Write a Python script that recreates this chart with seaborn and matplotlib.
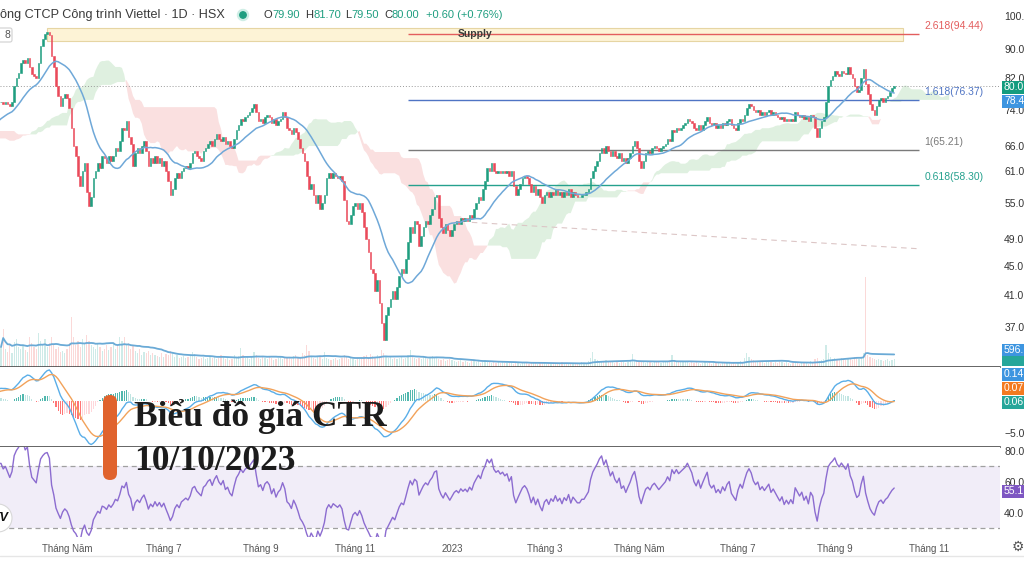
import numpy as np
import pandas as pd
import matplotlib
matplotlib.use("Agg")
import matplotlib.pyplot as plt
from matplotlib.patches import Rectangle, FancyBboxPatch, Circle
from matplotlib.ticker import NullLocator
import seaborn as sns

W, H = 1024, 576

# ---------------- data ----------------
start_date = "2022-03-21"
history_close = [
    72, 71.5, 72.5, 73, 72, 71, 70.5, 71.5, 72, 73,
    73.5, 72.5, 71, 70, 69.5, 70.5, 71, 70, 69, 68.5,
    69.5, 70, 71, 72, 71.5, 70.5, 69.5, 68, 67.5, 68.5,
    69, 70, 69.5, 68.5, 67, 66, 66.5, 67.5, 68, 67,
    66, 65, 65.5, 66.5, 67.5, 68, 67.5, 68.5, 69.5, 70,
    69, 68, 67, 66.5, 65.5, 66, 66.5, 67.5, 68, 67.5,
    67, 68, 69, 68.5, 69.5, 70.5, 70, 69, 70.5, 71.5,
    71, 72, 73, 72.5, 73.5, 74.5, 75, 74.5, 76, 76,
]
close = [
    76, 75.5, 76, 75.5, 75, 76, 80, 82, 83.5, 86,
    87, 86, 87.5, 85, 83, 82.5, 82, 86, 91, 93,
    94.5, 95, 94, 88, 85, 80, 77.5, 75, 77, 78,
    77, 74.5, 70, 66, 64, 60, 58, 61, 62.5, 57,
    54.5, 56, 59.5, 61, 62.5, 61.5, 64, 63.5, 62.5, 64,
    63, 64, 65.5, 65, 67, 70, 69.5, 71.5, 68, 66.5,
    62, 64.5, 65.5, 64.5, 66, 67, 65, 62, 63.5, 62.5,
    64, 62.5, 63.5, 62, 63, 61, 59, 56.5, 57.5, 59.5,
    60.5, 59.5, 61, 61.5, 62, 61.5, 62.5, 64.5, 65, 64,
    63.5, 63, 65, 65.5, 66.5, 67, 66, 67.5, 68.5, 67.5,
    67, 68, 66.5, 67, 66, 65.5, 67.5, 69.5, 70.5, 72,
    71.5, 72.5, 73, 73.5, 74.5, 75.5, 73.5, 71.5, 72, 71,
    72.5, 73, 72.5, 71, 72, 70.5, 71.5, 72, 73.5, 72.5,
    70, 69.5, 68.5, 70, 69, 67.5, 65.5, 64.5, 63, 60,
    57.5, 58.5, 56.5, 55, 56.5, 54, 55, 56.5, 59.5, 60.5,
    59.5, 60.5, 60, 59.5, 60, 59, 55.5, 52, 51.5, 53,
    54.5, 55, 54, 55, 53.5, 51, 49, 47, 44.5, 44,
    41.5, 43, 40, 37.5, 35.5, 38.5, 39.5, 40.5, 41.5, 40.5,
    42, 43.5, 44.5, 44, 46, 48.5, 51, 50, 52, 51.5,
    48, 49.5, 51, 52, 51.5, 53, 54, 56, 56.5, 52.5,
    51, 50, 51.5, 50.5, 49.5, 50.5, 51.5, 52, 51.5, 52.5,
    52, 52.5, 52, 53, 52.5, 54, 55, 56, 55.5, 57.5,
    59, 61.5, 61, 62.5, 61, 60.5, 61, 60.5, 61, 60.5,
    61, 60, 61, 58, 56.5, 57.5, 58.5, 59.5, 60, 59.5,
    58.5, 57, 58, 56.5, 57.5, 56, 55, 56.5, 57, 56,
    57, 56.5, 57.5, 56.5, 57, 56, 57, 56.5, 57.5, 56,
    57, 56.5, 56, 56, 56.5, 56.5, 57, 57.5, 59.5, 61,
    62, 63, 64.5, 65.5, 64.5, 66, 65, 64, 65, 64,
    63.5, 64.5, 63, 63.5, 62.5, 63.5, 64.5, 66, 67, 65.5,
    63, 61.5, 63, 64.5, 65, 64.5, 65.5, 66, 65.5, 65,
    65.5, 66, 66.5, 67.5, 67, 69.5, 69, 70, 69.5, 70,
    70.5, 71, 72, 71.5, 71, 70, 69.5, 70.5, 69.5, 70.5,
    71.5, 72.5, 71, 70.5, 71, 70, 70.5, 70, 71, 70.5,
    71.5, 72, 70.5, 70, 69.5, 71, 72, 71.5, 73, 74.5,
    75.5, 75, 74, 73.5, 74, 73, 73.5, 73, 73.5, 74,
    73, 73.5, 73, 72.5, 72, 72.5, 71.5, 72, 71.5, 72,
    71.5, 73.5, 73, 72.5, 73, 72, 72.5, 71.5, 73, 72.5,
    70, 68, 70, 71.5, 72.5, 76, 80, 81.5, 82.5, 84,
    83, 82.5, 84, 83.5, 83, 85, 83, 82, 80, 78.5,
    79, 82, 84.5, 80.5, 78, 75.5, 74, 73, 75, 76.5,
    77, 76, 77, 77.5, 78.5, 79.4, 80,
]
volume = [
    20, 38, 18, 15, 22, 14, 25, 28, 20, 18,
    22, 17, 15, 30, 24, 20, 18, 34, 26, 22,
    28, 20, 24, 30, 22, 18, 20, 15, 16, 14,
    18, 24, 50, 30, 22, 26, 20, 28, 24, 32,
    26, 22, 20, 18, 24, 20, 16, 18, 22, 17,
    20, 24, 18, 22, 30, 26, 30, 22, 24, 18,
    22, 16, 14, 18, 12, 15, 14, 16, 12, 14,
    12, 11, 10, 14, 10, 13, 12, 16, 14, 10,
    12, 9, 10, 11, 9, 10, 12, 15, 13, 10,
    8, 9, 10, 8, 9, 11, 9, 10, 8, 9,
    12, 10, 8, 9, 7, 8, 12, 10, 11, 19,
    12, 9, 10, 8, 11, 15, 12, 9, 8, 10,
    9, 8, 10, 9, 7, 8, 9, 10, 8, 9,
    9, 10, 8, 11, 12, 10, 9, 14, 12, 22,
    16, 10, 9, 8, 11, 10, 8, 15, 9, 8,
    7, 8, 9, 7, 8, 9, 12, 10, 8, 9,
    8, 7, 9, 8, 10, 11, 12, 10, 13, 11,
    10, 12, 11, 17, 14, 10, 9, 10, 8, 9,
    8, 9, 10, 8, 9, 12, 17, 10, 9, 8,
    9, 8, 10, 9, 8, 10, 11, 9, 10, 8,
    7, 8, 6, 7, 8, 7, 6, 5, 6, 7,
    5, 6, 5, 4, 6, 7, 5, 6, 4, 5,
    7, 6, 5, 4, 5, 4, 5, 4, 5, 4,
    4, 5, 4, 3, 5, 4, 3, 4, 5, 4,
    3, 4, 5, 4, 3, 4, 5, 4, 3, 4,
    3, 4, 3, 4, 3, 5, 4, 3, 4, 3,
    4, 3, 4, 3, 5, 4, 3, 6, 9, 15,
    8, 7, 6, 5, 6, 7, 5, 6, 5, 4,
    5, 4, 6, 5, 4, 5, 6, 13, 7, 6,
    5, 6, 5, 4, 6, 5, 4, 5, 6, 5,
    4, 5, 6, 5, 7, 12, 6, 5, 6, 5,
    6, 5, 6, 4, 5, 4, 5, 4, 3, 4,
    5, 4, 5, 3, 4, 5, 4, 3, 4, 5,
    4, 5, 3, 4, 3, 5, 6, 5, 9, 14,
    10, 8, 7, 6, 5, 6, 5, 4, 5, 6,
    5, 4, 5, 4, 6, 5, 4, 5, 4, 3,
    4, 5, 4, 3, 4, 5, 4, 3, 6, 5,
    8, 9, 6, 7, 8, 22, 14, 10, 8, 9,
    7, 8, 9, 8, 7, 9, 8, 7, 10, 9,
    8, 10, 14, 90, 12, 10, 9, 8, 7, 8,
    7, 6, 7, 8, 6, 7, 8,
]
header_title = "ông CTCP Công trình Viettel · 1D · HSX"
ohlc_letters = ["O", "H", "L", "C"]
ohlc_values = ["79.90", "81.70", "79.50", "80.00"]
change_text = "+0.60 (+0.76%)"
fib_ratios = ["2.618", "1.618", "1", "0.618"]
fib_prices = [94.44, 76.37, 65.21, 58.30]
fib_colors = ["#e35d5d", "#4f74c4", "#7a7a7a", "#25a18e"]
supply_low, supply_high = 92.4, 96.4
supply_label = "Supply"
trend_idx = [214, 418]
trend_price = [51.7, 47.5]
price_ticks = [100, 90, 82, 74, 66, 61, 55, 49, 45, 41, 37]
macd_ticks = [-5]
rsi_ticks = [40, 60, 80]
month_labels = {5: "Tháng Năm", 7: "Tháng 7", 9: "Tháng 9", 11: "Tháng 11", 3: "Tháng 3"}
title_lines = ["Biểu đồ giá CTR", "10/10/2023"]
tag_texts = {"last": "80.0", "ma": "78.4", "vol": "596.", "macd": "0.14",
             "signal": "0.07", "hist": "0.06", "rsi": "55.1"}

# ---------------- indicators ----------------
n_hist = len(history_close)
s = pd.Series(np.array(history_close + close, dtype=float))
xi = np.arange(len(s)) - n_hist
opens = s.shift(1).bfill().values
closes = s.values
sma20 = s.rolling(20).mean()
ema12 = s.ewm(span=12, adjust=False).mean()
ema26 = s.ewm(span=26, adjust=False).mean()
macd = ema12 - ema26
signal = macd.ewm(span=9, adjust=False).mean()
hist = macd - signal
d = s.diff()
ag = d.clip(lower=0).ewm(alpha=1 / 14, adjust=False).mean()
al = (-d.clip(upper=0)).ewm(alpha=1 / 14, adjust=False).mean()
rsi = 100 - 100 / (1 + ag / al)
tenkan = (s.rolling(9).max() + s.rolling(9).min()) / 2
kijun = (s.rolling(26).max() + s.rolling(26).min()) / 2
spanA = ((tenkan + kijun) / 2).values
spanB = ((s.rolling(52).max() + s.rolling(52).min()) / 2).values
cloud_x = xi + 25
vol = pd.Series(np.array(volume, dtype=float))
vol_ma = vol.rolling(20, min_periods=1).mean()
vx = np.arange(len(vol))

# ---------------- figure ----------------
sns.set_theme(style="white")
plt.rcParams["font.family"] = ["Liberation Sans", "DejaVu Sans"]
fig = plt.figure(figsize=(W / 100, H / 100), dpi=100)
fig.patch.set_facecolor("white")


def rect(top, bottom, left=0, right=1000):
    return [left / W, 1 - bottom / H, (right - left) / W, (bottom - top) / H]


ax_vol = fig.add_axes(rect(0, 367))
ax_price = fig.add_axes(rect(0, 367), sharex=ax_vol)
ax_price.patch.set_alpha(0)
ax_macd = fig.add_axes(rect(367, 447), sharex=ax_vol)
ax_rsi = fig.add_axes(rect(447, 537), sharex=ax_vol)
XMIN, XMAX = -0.45, 454.1
ax_vol.set_xlim(XMIN, XMAX)

GREEN, RED = "#1f9e80", "#ea4a5a"

# volume
vis = xi >= 0
up = closes[vis] >= opens[vis]
vcol = np.where(up, "#26a69a", "#ef5350")
ax_vol.bar(vx, vol.values, width=0.6, color=vcol, alpha=0.22, linewidth=0)
sns.lineplot(x=vx, y=vol_ma.values, ax=ax_vol, color="#6aaad6", linewidth=1.3,
             estimator=None, sort=False)
ax_vol.set_ylim(0, 367)
ax_vol.axis("off")

# ichimoku cloud
ok = ~np.isnan(spanA) & ~np.isnan(spanB)
ax_price.fill_between(cloud_x[ok], spanA[ok], spanB[ok], where=spanA[ok] >= spanB[ok],
                      color="#81c784", alpha=0.25, linewidth=0, interpolate=True)
ax_price.fill_between(cloud_x[ok], spanA[ok], spanB[ok], where=spanA[ok] < spanB[ok],
                      color="#ef9a9a", alpha=0.3, linewidth=0, interpolate=True)

ax_price.set_yscale("log")
ax_price.set_ylim(32.55, 105.3)

# supply zone & fib
ax_price.add_patch(Rectangle((21, supply_low), 389, supply_high - supply_low,
                             facecolor="#fdf3d6", edgecolor="#e6d5a3", linewidth=0.8, zorder=1))
ax_price.text((21 + 410) / 2, np.sqrt(supply_low * supply_high), supply_label, ha="center",
              va="center", fontsize=7.5, fontweight="bold", color="#3a3a3a", zorder=4)
for r, p, c in zip(fib_ratios, fib_prices, fib_colors):
    ax_price.hlines(p, 185, 417.5, color=c, linewidth=1.0, zorder=3)
    ax_price.annotate(f"{r}({p:.2f})", xy=(418.5, p), xytext=(3, 8), textcoords="offset pixels",
                      ha="left", va="center", fontsize=7.5, color=c)

ax_price.plot(trend_idx, trend_price, color="#dcc6c6", linewidth=0.8, linestyle=(0, (5, 4)))
ax_price.axhline(close[-1], color="#9a9a9a", linewidth=0.7, linestyle=(0, (1, 2)))

# candles
o = opens[vis]
c = closes[vis]
ccol = np.where(up, GREEN, RED)
body = np.abs(c - o)
ax_price.bar(np.arange(len(c)), body, bottom=np.minimum(o, c), width=0.72, color=ccol,
             edgecolor=ccol, linewidth=0.4, zorder=5)

m = ~np.isnan(sma20.values)
sns.lineplot(x=xi[m], y=sma20.values[m], ax=ax_price, color="#6fa8d8", linewidth=1.1,
             estimator=None, sort=False, zorder=6)

ax_price.yaxis.tick_right()
ax_price.set_yticks(price_ticks)
ax_price.set_yticklabels([f"{v:.1f}" for v in price_ticks])
ax_price.yaxis.set_minor_locator(NullLocator())
ax_price.tick_params(axis="y", length=0, pad=3, labelsize=7.5, colors="#333333")
ax_price.tick_params(axis="x", length=0, labelbottom=False)
for sp in ["top", "left", "right"]:
    ax_price.spines[sp].set_visible(False)
ax_price.spines["bottom"].set_color("#4a4a4a")
ax_price.spines["bottom"].set_linewidth(1.2)
ax_price.set_ylabel("")

# MACD
hv = hist.values
hprev = np.concatenate([[0], hv[:-1]])
hcol = np.where(hv >= 0, np.where(hv >= hprev, "#26a69a", "#b2dfdb"),
                np.where(hv < hprev, "#ff5252", "#ffcdd2"))
ax_macd.bar(xi, hv, width=0.55, color=hcol, linewidth=0, alpha=0.8)
sns.lineplot(x=xi, y=macd.values, ax=ax_macd, color="#5aaee8", linewidth=1.0,
             estimator=None, sort=False)
sns.lineplot(x=xi, y=signal.values, ax=ax_macd, color="#f2a25a", linewidth=1.0,
             estimator=None, sort=False)
ax_macd.set_ylim(-7.19, 5.31)
ax_macd.yaxis.tick_right()
ax_macd.set_yticks(macd_ticks)
ax_macd.set_yticklabels(["\u22125.0"])
ax_macd.tick_params(axis="y", length=0, pad=3, labelsize=7.5, colors="#333333")
ax_macd.tick_params(axis="x", length=0, labelbottom=False)
for sp in ["top", "left", "right"]:
    ax_macd.spines[sp].set_visible(False)
ax_macd.spines["bottom"].set_color("#4a4a4a")
ax_macd.spines["bottom"].set_linewidth(1.2)
ax_macd.set_ylabel("")

# RSI
ax_rsi.axhspan(30, 70, color="#7e57c2", alpha=0.1, linewidth=0)
ax_rsi.axhline(70, color="#a0a0a0", linewidth=0.9, linestyle=(0, (4, 3)))
ax_rsi.axhline(30, color="#a0a0a0", linewidth=0.9, linestyle=(0, (4, 3)))
r = rsi.values
mr = ~np.isnan(r)
sns.lineplot(x=xi[mr], y=r[mr], ax=ax_rsi, color="#8c6cd0", linewidth=1.0,
             estimator=None, sort=False)
ax_rsi.set_ylim(24.2, 82.26)
ax_rsi.yaxis.tick_right()
ax_rsi.set_yticks(rsi_ticks)
ax_rsi.set_yticklabels([f"{v:.1f}" for v in rsi_ticks])
ax_rsi.tick_params(axis="y", length=0, pad=3, labelsize=7.5, colors="#333333")
for sp in ["top", "left", "right", "bottom"]:
    ax_rsi.spines[sp].set_visible(False)
ax_rsi.set_ylabel("")

# month ticks
dates = pd.bdate_range(start_date, periods=int(XMAX) + 1)
tick_pos, tick_lab = [], []
for i in range(1, len(dates)):
    if dates[i].month != dates[i - 1].month:
        mo = dates[i].month
        if mo == 1:
            tick_pos.append(i)
            tick_lab.append(str(dates[i].year))
        elif mo in month_labels:
            tick_pos.append(i)
            tick_lab.append(month_labels[mo])
ax_rsi.set_xticks(tick_pos)
ax_rsi.set_xticklabels(tick_lab)
ax_rsi.tick_params(axis="x", length=0, pad=5, labelsize=7, colors="#555555")
ax_rsi.set_xlim(XMIN, XMAX)

# ---------------- overlay (pixel coords) ----------------
ov = fig.add_axes([0, 0, 1, 1])
ov.set_xlim(0, W)
ov.set_ylim(H, 0)
ov.axis("off")
ov.patch.set_alpha(0)

ov.text(0, 15, header_title, fontsize=9.1, color="#3a3a3a", va="center", ha="left")
ov.add_patch(Circle((243, 15), 5.5, color="#cfeee6"))
ov.add_patch(Circle((243, 15), 3.2, color="#1f9e80"))
letter_x = [263, 305, 345, 384]
value_x = [272, 313, 351.5, 392]
for lx, vx_, L, v in zip(letter_x, value_x, ohlc_letters, ohlc_values):
    ov.text(lx, 15, L, fontsize=8, color="#333333", va="center", ha="left")
    ov.text(vx_, 15, v, fontsize=8, color="#1f9e80", va="center", ha="left")
ov.text(426, 15, change_text, fontsize=8, color="#1f9e80", va="center", ha="left")

ov.add_patch(FancyBboxPatch((-4, 28), 16, 14, boxstyle="round,pad=0,rounding_size=2",
                            facecolor="white", edgecolor="#d0d0d0", linewidth=0.8))
ov.text(7, 35, "8", fontsize=7.5, color="#555555", ha="center", va="center")


def tag(yc, txt, col, h=13):
    ov.add_patch(Rectangle((1002, yc - h / 2), 24, h, facecolor=col, edgecolor="none"))
    ov.text(1004, yc, txt, fontsize=7.5, color="white", ha="left", va="center")


tag(87, tag_texts["last"], "#149c7e")
tag(101, tag_texts["ma"], "#3d95e0")
ov.add_patch(Rectangle((1002, 356), 24, 10, facecolor="#26a69a", edgecolor="none"))
tag(350, tag_texts["vol"], "#3d95e0", h=12)
tag(374, tag_texts["macd"], "#3d95e0")
tag(388, tag_texts["signal"], "#f47a20")
tag(402, tag_texts["hist"], "#26a69a")
tag(491, tag_texts["rsi"], "#7e57c2")

ov.text(1018, 547, "\u2699", fontsize=10, color="#555555", ha="center", va="center",
        family="DejaVu Sans")
ov.plot([0, W], [556, 556], color="#e6e6e6", linewidth=1)

# TradingView logo (partially cut)
ov.add_patch(Circle((-2, 518), 14, facecolor="white", edgecolor="#d8d8d8", linewidth=0.8))
ov.text(-8, 518, "TV", fontsize=9, fontweight="bold", style="italic", color="#111111",
        ha="left", va="center")

# title overlay
ov.add_patch(FancyBboxPatch((103, 395), 14, 85, boxstyle="round,pad=0,rounding_size=7",
                            facecolor="#e0632d", edgecolor="none"))
ov.text(134, 417, title_lines[0], fontsize=25.5, fontweight="bold", family="Liberation Serif",
        color="#1c1c1c", ha="left", va="center")
ov.text(134, 461, title_lines[1], fontsize=25.5, fontweight="bold", family="Liberation Serif",
        color="#1c1c1c", ha="left", va="center")

fig.savefig("out.png", dpi=100)
